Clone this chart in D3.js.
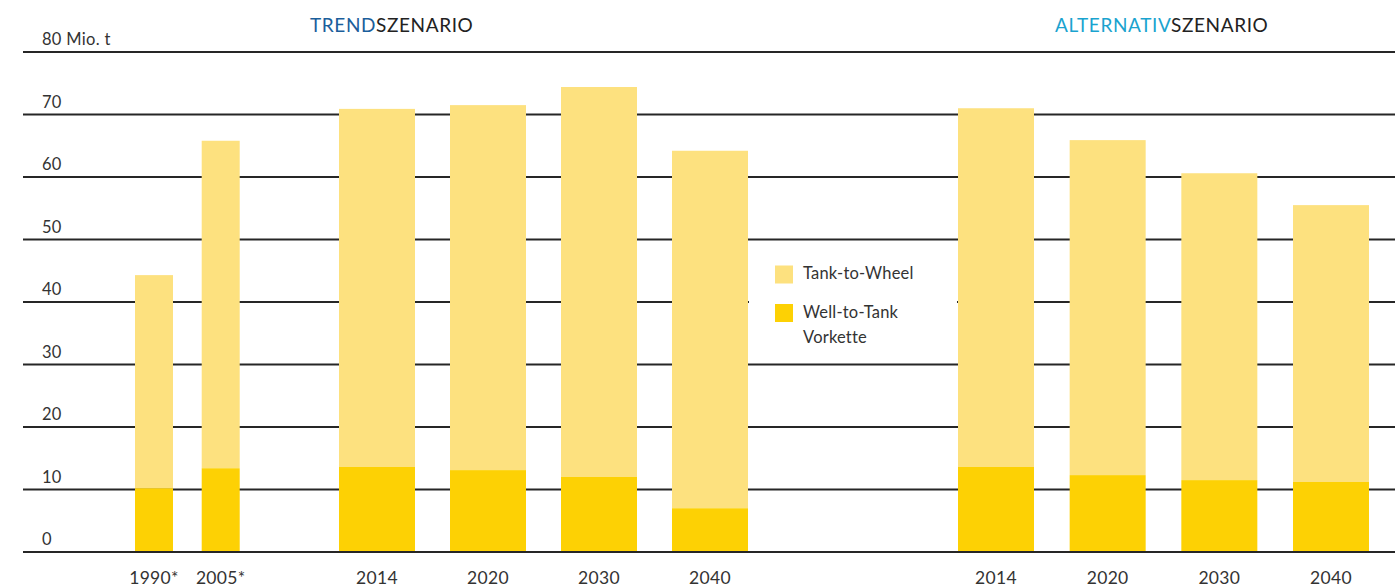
<!DOCTYPE html>
<html><head><meta charset="utf-8">
<script src="https://cdn.jsdelivr.net/npm/d3@7"></script>
<style>body{margin:0;background:#fff}svg{display:block}text{font-family:Lato,"Open Sans",sans-serif}</style>
</head><body><svg id="c" width="1395" height="587"></svg>
<script>
const histYears = ["1990*", "2005*"];
const histTotal = [44.3, 65.8];
const histWtT = [10.2, 13.4];

const trendYears = ["2014", "2020", "2030", "2040"];
const trendTotal = [70.9, 71.5, 74.4, 64.2];
const trendWtT = [13.6, 13.1, 12.0, 7.0];

const altYears = ["2014", "2020", "2030", "2040"];
const altTotal = [71.0, 65.9, 60.6, 55.5];
const altWtT = [13.6, 12.3, 11.5, 11.2];

const yTicks = [0, 10, 20, 30, 40, 50, 60, 70, 80];
const yUnit = "Mio. t";
const seriesNames = ["Tank-to-Wheel", "Well-to-Tank\nVorkette"];
const colors = {ttw: "#FDE17F", wtt: "#FDD104"};

const svg = d3.select("#c");
const y = d3.scaleLinear().domain([0, 80]).range([552, 52]);

// gridlines
svg.append("g").selectAll("line").data(yTicks).join("line")
  .attr("x1", 23).attr("x2", 1395)
  .attr("y1", d => y(d)).attr("y2", d => y(d))
  .attr("stroke", "#262626").attr("stroke-width", 2.2);

// y labels
svg.append("g").selectAll("text").data(yTicks).join("text")
  .attr("x", 42).attr("y", d => y(d) - 7)
  .attr("font-size", 16.5).attr("letter-spacing", 0.3).attr("fill", "#333")
  .text(d => d === 80 ? d + " " + yUnit : d);

function group(years, total, wtt, range, width) {
  const x = d3.scalePoint().domain(years).range(range);
  const g = svg.append("g");
  years.forEach((yr, i) => {
    g.append("rect").attr("x", x(yr) - width / 2).attr("width", width)
      .attr("y", y(total[i])).attr("height", y(wtt[i]) - y(total[i]))
      .attr("fill", colors.ttw);
    g.append("rect").attr("x", x(yr) - width / 2).attr("width", width)
      .attr("y", y(wtt[i])).attr("height", y(0) - y(wtt[i]))
      .attr("fill", colors.wtt);
    g.append("text").attr("x", x(yr)).attr("y", 584)
      .attr("text-anchor", "middle").attr("font-size", 17.5).attr("letter-spacing", 0.3).attr("fill", "#333")
      .text(yr);
  });
}
group(histYears, histTotal, histWtT, [154, 220.7], 38);
group(trendYears, trendTotal, trendWtT, [377, 710], 76);
group(altYears, altTotal, altWtT, [996, 1331], 76);

// redraw baseline on top
svg.append("line").attr("x1", 23).attr("x2", 1395).attr("y1", y(0)).attr("y2", y(0))
  .attr("stroke", "#262626").attr("stroke-width", 2.2);

// titles
const t1 = svg.append("text").attr("x", 310).attr("y", 32).attr("font-size", 19).attr("letter-spacing", 0.6);
t1.append("tspan").attr("fill", "#1B5E9B").text("TREND");
t1.append("tspan").attr("fill", "#222").text("SZENARIO");
const t2 = svg.append("text").attr("x", 1055).attr("y", 32).attr("font-size", 19).attr("letter-spacing", 0.6);
t2.append("tspan").attr("fill", "#1AA3CF").text("ALTERNATIV");
t2.append("tspan").attr("fill", "#222").text("SZENARIO");

// legend
const lg = svg.append("g");
lg.append("rect").attr("x", 749).attr("y", 250).attr("width", 208).attr("height", 105).attr("fill", "#fff");
[colors.ttw, colors.wtt].forEach((c, i) => {
  lg.append("rect").attr("x", 775).attr("y", 265.5 + i * 38.5).attr("width", 18).attr("height", 18).attr("fill", c);
  const lines = seriesNames[i].split("\n");
  lines.forEach((l, j) => {
    lg.append("text").attr("x", 803).attr("y", 279 + i * 39 + j * 25)
      .attr("font-size", 16.5).attr("letter-spacing", 0.2).attr("fill", "#333").text(l);
  });
});
</script></body></html>
